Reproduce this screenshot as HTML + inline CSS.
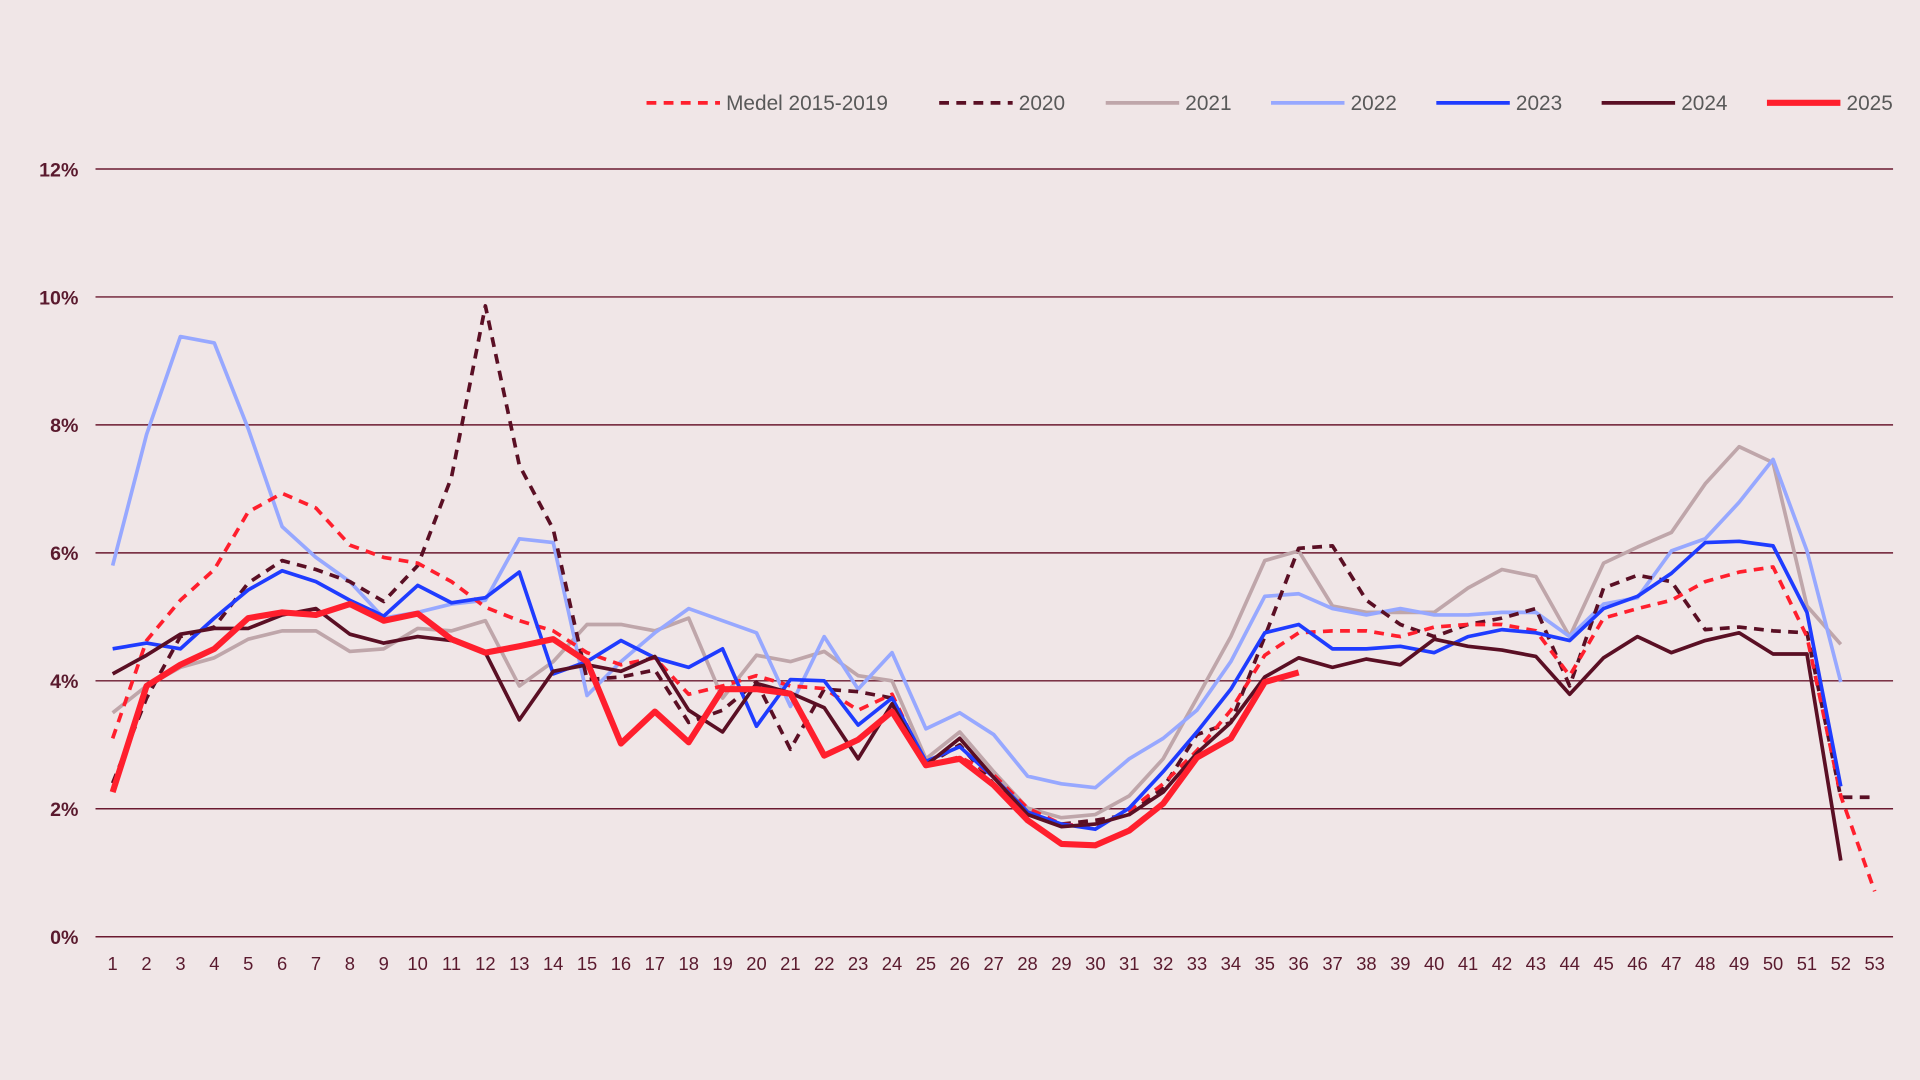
<!DOCTYPE html>
<html><head><meta charset="utf-8"><style>
html,body{margin:0;padding:0;background:#f0e6e7;}
svg{display:block;font-family:"Liberation Sans",sans-serif;}
</style></head><body>
<svg id="chart" width="1920" height="1080" viewBox="0 0 1568 882" xmlns="http://www.w3.org/2000/svg">
<rect width="1568" height="882" fill="#f0e6e7"/>
<g id="grid"></g>
<g id="yticks"></g>
<g id="xticks"></g>
<g id="series"></g>
<g id="legend"></g>
</svg>
<script>
const weeks = Array.from({length:53},(_,i)=>i+1);
const yTicks = [0,2,4,6,8,10,12];
const medel = [3.1,4.63,5.26,5.74,6.64,6.93,6.7,6.12,5.93,5.84,5.55,5.15,4.94,4.78,4.44,4.25,4.36,3.79,3.92,4.08,3.92,3.88,3.54,3.79,2.68,2.81,2.53,2.01,1.76,1.72,1.97,2.39,2.91,3.54,4.4,4.75,4.78,4.78,4.69,4.84,4.88,4.88,4.78,4.08,4.98,5.13,5.26,5.55,5.7,5.78,4.69,2.2,0.71];
const y2020 = [2.4,3.73,4.69,4.84,5.53,5.88,5.74,5.55,5.24,5.8,7.18,9.86,7.37,6.37,4.02,4.06,4.17,3.35,3.54,3.98,2.93,3.87,3.83,3.73,2.68,3.0,2.39,1.91,1.76,1.82,1.91,2.33,3.16,3.35,4.69,6.07,6.11,5.26,4.88,4.69,4.88,4.98,5.13,3.92,5.45,5.65,5.55,4.8,4.84,4.78,4.75,2.18,2.18];
const y2021 = [3.5,3.92,4.21,4.36,4.65,4.78,4.78,4.46,4.5,4.82,4.78,4.94,3.92,4.3,4.88,4.88,4.78,4.98,3.73,4.4,4.3,4.46,4.08,4.0,2.78,3.2,2.58,2.01,1.86,1.91,2.2,2.78,3.73,4.69,5.88,6.03,5.17,5.07,5.07,5.07,5.45,5.74,5.63,4.69,5.84,6.09,6.32,7.08,7.66,7.41,5.17,4.57];
const y2022 = [5.8,7.85,9.38,9.28,7.94,6.41,5.93,5.55,4.98,5.07,5.2,5.26,6.22,6.16,3.77,4.3,4.75,5.13,4.94,4.75,3.6,4.69,3.87,4.44,3.25,3.5,3.16,2.51,2.39,2.33,2.78,3.1,3.54,4.3,5.32,5.36,5.13,5.03,5.13,5.03,5.03,5.07,5.07,4.69,5.2,5.3,6.03,6.22,6.79,7.46,6.03,3.98];
const y2023 = [4.5,4.59,4.5,4.98,5.42,5.72,5.55,5.26,5.01,5.49,5.22,5.3,5.7,4.11,4.3,4.63,4.36,4.21,4.5,3.29,4.02,4.0,3.31,3.73,2.74,2.97,2.49,1.95,1.76,1.68,2.01,2.58,3.2,3.87,4.75,4.88,4.5,4.5,4.54,4.44,4.69,4.8,4.75,4.63,5.13,5.32,5.68,6.16,6.18,6.11,5.07,2.35];
const y2024 = [4.11,4.4,4.73,4.82,4.82,5.03,5.13,4.73,4.59,4.69,4.63,4.44,3.39,4.15,4.25,4.15,4.38,3.54,3.2,3.96,3.81,3.58,2.78,3.64,2.68,3.1,2.49,1.91,1.72,1.76,1.91,2.26,2.87,3.35,4.06,4.36,4.21,4.34,4.25,4.65,4.54,4.48,4.38,3.79,4.36,4.69,4.44,4.63,4.75,4.42,4.42,1.19];
const y2025 = [2.26,3.92,4.25,4.5,4.98,5.07,5.03,5.2,4.94,5.05,4.65,4.44,4.54,4.65,4.3,3.02,3.52,3.04,3.87,3.87,3.8,2.83,3.08,3.52,2.68,2.78,2.37,1.82,1.45,1.43,1.66,2.08,2.8,3.1,3.98,4.13];
const seriesNames = ["Medel 2015-2019","2020","2021","2022","2023","2024","2025"];

const NS="http://www.w3.org/2000/svg";
const X0=92, X1=1531, Y0=765, YPER=52.25;
const xs = w => X0 + (w-1)*(X1-X0)/52;
const ys = v => Y0 - v*YPER;
function mk(tag, attrs, parent){const e=document.createElementNS(NS,tag);for(const k in attrs)e.setAttribute(k,attrs[k]);parent.appendChild(e);return e;}
const grid=document.getElementById('grid'), yt=document.getElementById('yticks'), xt=document.getElementById('xticks'), sg=document.getElementById('series'), lg=document.getElementById('legend');
yTicks.forEach(v=>{
  const l=mk('line',{x1:78,x2:1546,y1:ys(v),y2:ys(v),stroke:'#6b1a30','stroke-width':1.2},grid);
  
  
  const t=mk('text',{x:64,y:ys(v)+6,'text-anchor':'end','font-size':16,'font-weight':'bold',fill:'#5a1a2e'},yt);
  t.textContent=v+'%';
  
  
});
weeks.forEach(w=>{
  const t=mk('text',{x:xs(w),y:792,'text-anchor':'middle','font-size':15,fill:'#5a1a2e'},xt);
  t.textContent=w;
  
  
});
const styles=[
  {d:y2021,c:'#bfa6aa',w:3,dash:null,n:'line-2021'},
  {d:y2022,c:'#97a8ff',w:3,dash:null,n:'line-2022'},
  {d:y2020,c:'#5a0f24',w:3,dash:'8,6',n:'line-2020'},
  {d:medel,c:'#ff1f2d',w:3,dash:'8,6',n:'line-medel'},
  {d:y2023,c:'#1f3cff',w:3,dash:null,n:'line-2023'},
  {d:y2024,c:'#5a0f24',w:3,dash:null,n:'line-2024'},
  {d:y2025,c:'#ff1f2d',w:5,dash:null,n:'line-2025'}
];
styles.forEach(s=>{
  const pts=s.d.map((v,i)=>xs(i+1).toFixed(1)+','+ys(v).toFixed(1)).join(' ');
  const a={points:pts,fill:'none',stroke:s.c,'stroke-width':s.w,'stroke-linejoin':'round'};
  if(s.dash)a['stroke-dasharray']=s.dash;
  const p=mk('polyline',a,sg);
  
  
});
const leg=[
  {x:528,c:'#ff1f2d',w:3,dash:'8,6'},
  {x:767,c:'#5a0f24',w:3,dash:'8,6'},
  {x:903,c:'#bfa6aa',w:3,dash:null},
  {x:1038,c:'#97a8ff',w:3,dash:null},
  {x:1173,c:'#1f3cff',w:3,dash:null},
  {x:1308,c:'#5a0f24',w:3,dash:null},
  {x:1443,c:'#ff1f2d',w:5,dash:null}
];
leg.forEach((l,i)=>{
  const a={x1:l.x,x2:l.x+60,y1:84,y2:84,stroke:l.c,'stroke-width':l.w};
  if(l.dash)a['stroke-dasharray']=l.dash;
  const ln=mk('line',a,lg);
  
  
  const t=mk('text',{x:l.x+65,y:90,'font-size':17,fill:'#595959'},lg);
  t.textContent=seriesNames[i];
  
  
});
</script>
</body></html>
